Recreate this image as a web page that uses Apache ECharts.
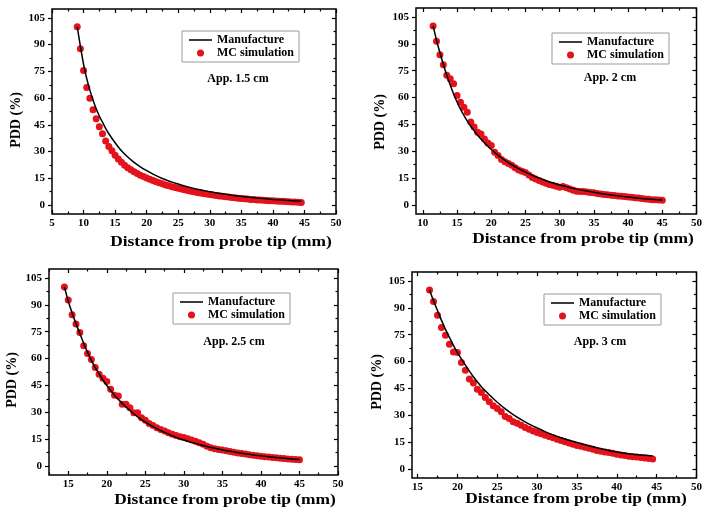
<!DOCTYPE html>
<html>
<head>
<meta charset="utf-8">
<script src="https://cdn.jsdelivr.net/npm/echarts@6/dist/echarts.min.js"></script>
<style>html,body{margin:0;padding:0;background:#fff}#c{width:705px;height:512px}</style>
</head>
<body>
<div id="c"></div>
<script>
// ---------- DATA ----------
const yTicks = [0, 15, 30, 45, 60, 75, 90, 105];
const xTicks1 = [5, 10, 15, 20, 25, 30, 35, 40, 45, 50];
const xTicks2 = [10, 15, 20, 25, 30, 35, 40, 45, 50];
const xTicks3 = [15, 20, 25, 30, 35, 40, 45, 50];
const xTicks4 = [15, 20, 25, 30, 35, 40, 45, 50];

// Panel 1 : App. 1.5 cm
const p1LineX = [9, 9.5, 10, 10.5, 11, 11.5, 12, 12.5, 13, 13.5, 14, 15, 16, 17, 18, 19, 20, 21, 22, 23, 24, 25, 26, 27, 28, 29, 30, 32, 34, 36, 38, 40, 42, 44.5];
const p1LineY = [100, 89, 79, 71, 64.5, 59, 54, 50, 46.5, 43, 40, 35, 30.5, 27, 24, 21.5, 19.3, 17.4, 15.7, 14.2, 12.9, 11.8, 10.7, 9.8, 8.9, 8.2, 7.5, 6.3, 5.3, 4.5, 3.8, 3.2, 2.7, 2.2];
const p1McX = [9, 9.5, 10, 10.5, 11, 11.5, 12, 12.5, 13, 13.5, 14, 14.5, 15, 15.5, 16, 16.5, 17, 17.5, 18, 18.5, 19, 19.5, 20, 20.5, 21, 21.5, 22, 22.5, 23, 23.5, 24, 24.5, 25, 25.5, 26, 26.5, 27, 27.5, 28, 28.5, 29, 29.5, 30, 30.5, 31, 31.5, 32, 32.5, 33, 33.5, 34, 34.5, 35, 35.5, 36, 36.5, 37, 37.5, 38, 38.5, 39, 39.5, 40, 40.5, 41, 41.5, 42, 42.5, 43, 43.5, 44, 44.5];
const p1McY = [100, 87.7, 75.5, 66, 60, 53.5, 48.5, 44, 40, 36, 32.8, 30.5, 28, 25.8, 24, 22.4, 21, 19.8, 18.7, 17.7, 16.8, 16, 15.2, 14.5, 13.8, 13.1, 12.5, 11.9, 11.3, 10.8, 10.3, 9.8, 9.4, 9.0, 8.6, 8.2, 7.8, 7.5, 7.1, 6.8, 6.5, 6.2, 5.9, 5.6, 5.4, 5.1, 4.9, 4.7, 4.5, 4.3, 4.1, 3.9, 3.7, 3.5, 3.4, 3.2, 3.1, 2.9, 2.8, 2.7, 2.6, 2.5, 2.4, 2.3, 2.2, 2.1, 2.0, 1.9, 1.8, 1.7, 1.6, 1.5];

// Panel 2 : App. 2 cm
const p2LineX = [11.5, 12, 12.5, 13, 13.5, 14, 14.5, 15, 15.5, 16, 16.5, 17, 17.5, 18, 19, 20, 21, 22, 23, 24, 25, 26, 27, 28, 29, 30, 32, 34, 36, 38, 40, 42, 45];
const p2LineY = [100, 92, 85, 78.5, 72.5, 67, 62, 57.5, 53.5, 50, 46.8, 44, 41.5, 39, 34.8, 31, 27.8, 25, 22.5, 20.3, 18.4, 16.6, 15, 13.6, 12.3, 11.2, 9.3, 7.8, 6.5, 5.4, 4.5, 3.7, 2.8];
const p2McX = [11.5, 12, 12.5, 13, 13.5, 14, 14.5, 15, 15.5, 16, 16.5, 17, 17.5, 18, 18.5, 19, 19.5, 20, 20.5, 21, 21.5, 22, 22.5, 23, 23.5, 24, 24.5, 25, 25.5, 26, 26.5, 27, 27.5, 28, 28.5, 29, 29.5, 30, 30.5, 31, 31.5, 32, 32.5, 33, 33.5, 34, 34.5, 35, 35.5, 36, 36.5, 37, 37.5, 38, 38.5, 39, 39.5, 40, 40.5, 41, 41.5, 42, 42.5, 43, 43.5, 44, 44.5, 45];
const p2McY = [100, 91.4, 83.9, 78.3, 72.4, 70.5, 67.7, 61.2, 57.4, 54.6, 51.8, 46.3, 43.5, 40.7, 39.7, 36.9, 34.7, 33.2, 29.5, 27.6, 25.4, 24.2, 23.2, 22.2, 20.8, 19.6, 18.8, 18.1, 16.8, 15.4, 14.5, 13.7, 12.9, 12.1, 11.5, 11.0, 10.5, 10.0, 10.3, 9.6, 9.0, 8.2, 7.7, 7.6, 7.5, 7.3, 7.0, 6.8, 6.5, 6.1, 5.9, 5.7, 5.5, 5.3, 5.1, 4.9, 4.7, 4.5, 4.3, 4.1, 3.9, 3.6, 3.4, 3.2, 3.0, 2.9, 2.8, 2.7];

// Panel 3 : App. 2.5 cm
const p3LineX = [14.5, 15, 15.5, 16, 16.5, 17, 17.5, 18, 18.5, 19, 19.5, 20, 21, 22, 23, 24, 25, 26, 27, 28, 29, 30, 31, 32, 33, 34, 35, 36, 37, 38, 39, 40, 41, 42, 43, 44, 45];
const p3LineY = [100, 92, 85.5, 79.5, 74, 68.5, 63.5, 59, 55, 51.5, 48, 45, 39.5, 35, 31, 27.5, 24.5, 22, 19.8, 17.8, 16, 14.5, 13.2, 12, 10.9, 9.9, 9, 8.2, 7.5, 6.8, 6.2, 5.7, 5.2, 4.8, 4.4, 4, 3.7];
const p3McX = [14.5, 15, 15.5, 16, 16.5, 17, 17.5, 18, 18.5, 19, 19.5, 20, 20.5, 21, 21.5, 22, 22.5, 23, 23.5, 24, 24.5, 25, 25.5, 26, 26.5, 27, 27.5, 28, 28.5, 29, 29.5, 30, 30.5, 31, 31.5, 32, 32.5, 33, 33.5, 34, 34.5, 35, 35.5, 36, 36.5, 37, 37.5, 38, 38.5, 39, 39.5, 40, 40.5, 41, 41.5, 42, 42.5, 43, 43.5, 44, 44.5, 45];
const p3McY = [100, 92.7, 84.5, 79.3, 74.6, 67.1, 62.8, 59.5, 55, 51.3, 49, 47.2, 42.9, 39.5, 39.1, 34.5, 34.5, 32.6, 29.8, 29.8, 27, 25.5, 23.8, 22.6, 21.4, 20.4, 19.5, 18.6, 17.8, 17.0, 16.4, 15.9, 15.2, 14.5, 13.8, 13.0, 12.2, 11.0, 10.2, 9.7, 9.3, 8.9, 8.5, 8.1, 7.7, 7.3, 7.0, 6.7, 6.3, 6.0, 5.7, 5.5, 5.2, 5.0, 4.8, 4.6, 4.4, 4.2, 4.0, 3.8, 3.6, 3.5];

// Panel 4 : App. 3 cm
const p4LineX = [16.5, 17, 17.5, 18, 18.5, 19, 19.5, 20, 21, 22, 23, 24, 25, 26, 27, 28, 29, 30, 31, 32, 33, 34, 35, 36, 37, 38, 39, 40, 41, 42, 43, 44.5];
const p4LineY = [100, 94, 88.5, 83, 78, 73.5, 69, 65, 58, 51.5, 46, 41.5, 37.3, 33.6, 30.4, 27.6, 25.1, 22.9, 20.9, 19.1, 17.5, 16.1, 14.9, 13.6, 12.4, 11.3, 10.3, 9.5, 8.8, 8.3, 7.9, 7.3];
const p4McX = [16.5, 17, 17.5, 18, 18.5, 19, 19.5, 20, 20.5, 21, 21.5, 22, 22.5, 23, 23.5, 24, 24.5, 25, 25.5, 26, 26.5, 27, 27.5, 28, 28.5, 29, 29.5, 30, 30.5, 31, 31.5, 32, 32.5, 33, 33.5, 34, 34.5, 35, 35.5, 36, 36.5, 37, 37.5, 38, 38.5, 39, 39.5, 40, 40.5, 41, 41.5, 42, 42.5, 43, 43.5, 44, 44.5];
const p4McY = [100, 93.5, 85.9, 79, 74.7, 69.7, 65.4, 65, 59.5, 55.2, 50.2, 48, 44.6, 42.7, 40, 37.5, 35.3, 33.8, 32, 29.4, 28.2, 26.4, 25.5, 24.4, 23.2, 22.2, 21.2, 20.4, 19.7, 18.9, 18.2, 17.4, 16.7, 16.0, 15.2, 14.5, 13.8, 13.2, 12.7, 12.1, 11.6, 11.0, 10.4, 9.9, 9.5, 9.2, 8.8, 8.3, 7.9, 7.5, 7.2, 6.9, 6.7, 6.5, 6.2, 5.9, 5.6];

const notes = ['App. 1.5 cm', 'App. 2 cm', 'App. 2.5 cm', 'App. 3 cm'];
const seriesNames = ['Manufacture', 'MC simulation'];
const xTitle = 'Distance from probe tip (mm)';
const yTitle = 'PDD (%)';

// ---------- LAYOUT ----------
const FONT = '"Liberation Serif", "Times New Roman", serif';
const panels = [
  { grid: { left: 52, top: 9, width: 284, height: 205 }, xr: [5, 50], xt: xTicks1,
    line: [p1LineX, p1LineY], mc: [p1McX, p1McY], lg: [182, 31], note: [238, 79], xT: [221, 242], yT: [16, 120] },
  { grid: { left: 416, top: 8, width: 286, height: 206 }, xr: [9, 50], xt: xTicks2,
    line: [p2LineX, p2LineY], mc: [p2McX, p2McY], lg: [552, 33], note: [610, 78], xT: [583, 239], yT: [380, 122] },
  { grid: { left: 49, top: 269, width: 289, height: 206 }, xr: [12.5, 50], xt: xTicks3,
    line: [p3LineX, p3LineY], mc: [p3McX, p3McY], lg: [173, 293], note: [234, 342], xT: [225, 500], yT: [12, 380] },
  { grid: { left: 412, top: 272, width: 286, height: 206 }, xr: [14.3, 50], xt: xTicks4,
    line: [p4LineX, p4LineY], mc: [p4McX, p4McY], lg: [544, 294], note: [600, 342], xT: [576, 499], yT: [377, 382] }
];

function mids(arr, lo, hi) {
  const out = [];
  for (let i = 0; i < arr.length - 1; i++) out.push((arr[i] + arr[i + 1]) / 2);
  const step = arr[1] - arr[0];
  if (arr[0] - step / 2 >= lo) out.unshift(arr[0] - step / 2);
  if (arr[arr.length - 1] + step / 2 <= hi) out.push(arr[arr.length - 1] + step / 2);
  return out;
}

const lbl = { fontFamily: FONT, fontWeight: 'bold', fontSize: 11, color: '#000' };
function axis(kind, g, min, max, pos, ticks, len, inside, withLabel) {
  return {
    type: 'value', gridIndex: g, min: min, max: max, position: pos,
    axisLine: { show: false, onZero: false }, splitLine: { show: false },
    axisTick: { show: true, inside: inside, length: len, customValues: ticks, lineStyle: { color: '#000', width: 1.2 } },
    axisLabel: withLabel ? Object.assign({ customValues: ticks, margin: kind === 'x' ? 4 : 7 }, lbl) : { show: false }
  };
}

const linePath = 'path://M0 0 H24 V1.6 H0 Z';
const grid = [], xAxis = [], yAxis = [], series = [], legend = [], graphic = [];
panels.forEach((p, g) => {
  grid.push(Object.assign({ show: true, borderColor: '#000', borderWidth: 1.5, backgroundColor: 'transparent' }, p.grid));
  const xm = mids(p.xt, p.xr[0], p.xr[1]);
  const ym = mids(yTicks, -5, 110);
  xAxis.push(axis('x', g, p.xr[0], p.xr[1], 'bottom', p.xt, 4, true, true));
  xAxis.push(axis('x', g, p.xr[0], p.xr[1], 'bottom', xm, 2.5, true, false));
  xAxis.push(axis('x', g, p.xr[0], p.xr[1], 'top', p.xt, 4, true, false));
  xAxis.push(axis('x', g, p.xr[0], p.xr[1], 'top', xm, 2.5, true, false));
  yAxis.push(axis('y', g, -5, 110, 'left', yTicks, 4, false, true));
  yAxis.push(axis('y', g, -5, 110, 'left', ym, 2.5, false, false));
  yAxis.push(axis('y', g, -5, 110, 'right', yTicks, 4, true, false));
  yAxis.push(axis('y', g, -5, 110, 'right', ym, 2.5, true, false));

  series.push({
    type: 'scatter', name: seriesNames[1], xAxisIndex: 4 * g, yAxisIndex: 4 * g,
    data: p.mc[0].map((v, i) => [v, p.mc[1][i]]),
    symbol: 'circle', symbolSize: 7, itemStyle: { color: '#e3121b', opacity: 1 }, z: 2
  });
  series.push({
    type: 'line', name: seriesNames[0], xAxisIndex: 4 * g, yAxisIndex: 4 * g,
    data: p.line[0].map((v, i) => [v, p.line[1][i]]),
    symbol: 'none', smooth: 0.3, lineStyle: { color: '#000', width: 1.5 }, itemStyle: { color: '#000' }, z: 3
  });

  legend.push({
    left: p.lg[0], top: p.lg[1], orient: 'vertical', selectedMode: false,
    data: [{ name: seriesNames[0], icon: linePath }, { name: seriesNames[1], icon: 'circle' }],
    itemWidth: 23, itemHeight: 7, itemGap: 1, padding: [3, 5, 3, 7],
    borderColor: '#9a9a9a', borderWidth: 1,
    textStyle: { fontFamily: FONT, fontWeight: 'bold', fontSize: 12, color: '#000', lineHeight: 12 }
  });

  graphic.push({ type: 'text', x: p.note[0], y: p.note[1], style: { text: notes[g], fill: '#000', font: 'bold 12px ' + FONT, textAlign: 'center', textVerticalAlign: 'middle' } });
  graphic.push({ type: 'text', x: p.xT[0], y: p.xT[1], scaleX: 1.16, style: { text: xTitle, fill: '#000', font: 'bold 15px ' + FONT, textAlign: 'center', textVerticalAlign: 'middle' } });
  graphic.push({ type: 'text', x: p.yT[0], y: p.yT[1], rotation: Math.PI / 2, style: { text: yTitle, fill: '#000', font: 'bold 14px ' + FONT, textAlign: 'center', textVerticalAlign: 'middle' } });
});

const chart = echarts.init(document.getElementById('c'), null, { renderer: 'canvas' });
chart.setOption({
  animation: false,
  backgroundColor: '#fff',
  grid: grid, xAxis: xAxis, yAxis: yAxis, series: series, legend: legend, graphic: graphic
});
</script>
</body>
</html>
